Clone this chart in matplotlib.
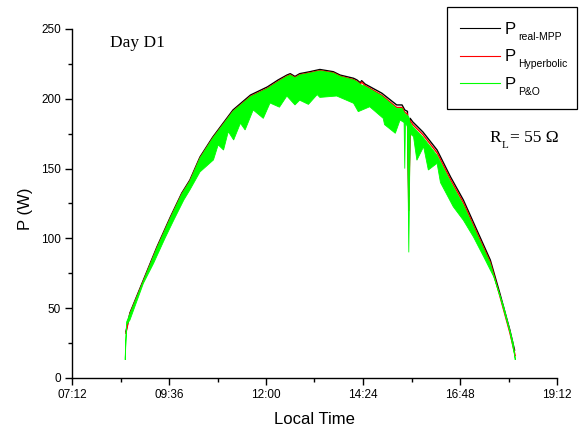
import numpy as np
import matplotlib
matplotlib.use("Agg")
import matplotlib.pyplot as plt
from matplotlib.ticker import FixedLocator, FuncFormatter
from matplotlib.lines import Line2D
from matplotlib.patches import Rectangle

# ---- measured power, day D1 (time as HH:MM, power in W) ----
t_mpp = ["08:32", "08:38", "08:58", "09:18", "09:38", "09:55", "10:07", "10:22",
         "10:41", "11:11", "11:37", "12:02", "12:18", "12:31", "12:36", "12:43",
         "12:50", "13:05", "13:20", "13:40", "13:50", "14:10", "14:15", "14:20",
         "14:22", "14:27", "14:52", "15:14", "15:22", "15:26", "15:30", "15:32",
         "15:34", "15:38", "15:53", "16:14", "16:34", "16:53", "17:13", "17:33",
         "17:47", "18:02", "18:09"]
p_mpp = [33.0, 46.6, 70.2, 93.8, 115.3, 132.5, 141.8, 158.3,
         172.6, 192.0, 202.7, 208.5, 213.5, 217.0, 218.0, 216.0,
         218.0, 219.4, 221.0, 219.4, 217.0, 214.7, 213.5, 211.5,
         213.0, 210.6, 204.0, 195.6, 195.6, 192.0, 191.0, 130.0,
         186.0, 183.4, 176.2, 163.3, 144.0, 127.5, 106.0, 84.5,
         60.9, 34.4, 20.0]

t_hyp = t_mpp[:-1] + ["18:10"]
p_hyp = [32.0, 46.0, 69.5, 93.0, 114.5, 131.8, 141.0, 157.5,
         171.8, 191.0, 201.7, 207.5, 212.5, 216.2, 217.2, 215.2,
         217.2, 218.6, 220.2, 218.6, 216.2, 213.7, 212.5, 210.5,
         212.0, 209.5, 202.5, 193.8, 193.8, 190.3, 189.0, 120.0,
         184.5, 181.5, 174.3, 161.3, 142.0, 125.5, 104.0, 82.7,
         59.0, 32.5, 16.0]

# P&O output oscillates; drawn as the band between its upper and lower envelope
t_po_hi = ["08:31", "08:33", "08:38", "08:58", "09:18", "09:38", "09:55", "10:07",
           "10:22", "10:41", "11:11", "11:37", "12:02", "12:18", "12:31", "12:36",
           "12:43", "12:50", "13:05", "13:20", "13:40", "13:50", "14:10", "14:15",
           "14:20", "14:27", "14:52", "15:14", "15:22", "15:26", "15:30", "15:32",
           "15:34", "15:38", "15:53", "16:14", "16:34", "16:53", "17:13", "17:33",
           "17:47", "18:02", "18:10"]
p_po_hi = [15.0, 40.0, 46.0, 69.5, 93.0, 114.5, 131.8, 141.0,
           157.5, 171.8, 191.0, 201.5, 207.3, 212.3, 216.0, 217.0,
           215.0, 217.0, 218.4, 220.0, 218.4, 216.0, 213.5, 212.3,
           210.3, 209.0, 202.0, 193.0, 193.0, 189.5, 188.0, 187.0,
           183.0, 180.0, 172.5, 159.5, 140.5, 124.0, 103.0, 82.0,
           59.0, 33.0, 14.0]

t_po_lo = ["08:31", "08:33", "08:38", "08:58", "09:13", "09:30", "09:43", "09:58",
           "10:07", "10:22", "10:42", "10:49", "10:57", "11:04", "11:12", "11:22",
           "11:29", "11:41", "11:56", "12:06", "12:20", "12:31", "12:43", "12:50",
           "13:03", "13:16", "13:20", "13:45", "14:10", "14:17", "14:34", "14:54",
           "14:56", "15:12", "15:19", "15:25", "15:26", "15:27", "15:30", "15:32",
           "15:34", "15:39", "15:44", "15:54", "16:01", "16:14", "16:19", "16:38",
           "16:53", "17:08", "17:23", "17:38", "17:53", "18:07", "18:10"]
p_po_lo = [13.0, 38.0, 41.5, 67.8, 82.0, 100.0, 113.0, 127.5,
           134.7, 147.6, 156.2, 167.0, 163.3, 176.5, 170.5, 182.5,
           177.7, 192.0, 186.0, 197.0, 194.0, 202.0, 195.6, 199.0,
           196.0, 203.0, 201.0, 202.0, 196.8, 190.8, 194.3, 186.0,
           181.5, 175.3, 184.8, 183.0, 150.0, 183.0, 180.0, 90.0,
           175.0, 172.9, 156.0, 165.7, 149.0, 153.8, 140.0, 122.7,
           113.0, 101.0, 87.0, 72.6, 51.0, 25.0, 13.0]

x_ticks = ["07:12", "09:36", "12:00", "14:24", "16:48", "19:12"]
y_ticks = [0, 50, 100, 150, 200, 250]

legend_main = ["P", "P", "P"]
legend_sub = ["real-MPP", "Hyperbolic", "P&O"]
legend_colors = ["black", "red", "#00ff00"]


def hours(stamps):
    return np.array([int(s[:2]) + int(s[3:]) / 60.0 for s in stamps])


def hhmm(x, pos=None):
    m = int(round(x * 60))
    return f"{m // 60:02d}:{m % 60:02d}"


W, H, DPI = 583, 429, 100
SANS = "Liberation Sans"
SERIF = "Liberation Serif"

plt.rcParams["font.family"] = [SANS, "DejaVu Sans"]

fig = plt.figure(figsize=(W / DPI, H / DPI), dpi=DPI)
fig.patch.set_facecolor("white")
ax = fig.add_axes([72 / W, 1 - 378 / H, 485 / W, 349 / H])


def fx(px):
    return px / W


def fy(py):
    return 1 - py / H


ax.plot(hours(t_mpp), p_mpp, color="black", lw=1.0, zorder=2)
ax.plot(hours(t_hyp), p_hyp, color="red", lw=1.0, zorder=3)
th, tl = hours(t_po_hi), hours(t_po_lo)
ax.fill(np.concatenate([th, tl[::-1]]),
        np.concatenate([p_po_hi, p_po_lo[::-1]]),
        facecolor="#00ff00", edgecolor="#00ff00", lw=0.6, zorder=4)

xt = hours(x_ticks)
ax.set_xlim(xt[0], xt[-1])
ax.set_ylim(y_ticks[0], y_ticks[-1])
ax.xaxis.set_major_locator(FixedLocator(xt))
ax.xaxis.set_minor_locator(FixedLocator((xt[:-1] + xt[1:]) / 2))
ax.xaxis.set_major_formatter(FuncFormatter(hhmm))
ax.yaxis.set_major_locator(FixedLocator(y_ticks))
ax.yaxis.set_minor_locator(FixedLocator(np.array(y_ticks[:-1]) + 25))

for side in ("top", "right"):
    ax.spines[side].set_visible(False)
for side in ("left", "bottom"):
    ax.spines[side].set_linewidth(1.0)
ax.tick_params(which="major", direction="out", length=5, width=1.0,
               labelsize=8.5, pad=3)
ax.tick_params(which="minor", direction="out", length=3, width=1.0)

ax.set_xlabel("Local Time", fontsize=12, va="top")
ax.xaxis.set_label_coords(0.5, (378 - 412) / 349)
ax.set_ylabel("P (W)", fontsize=12)
ax.yaxis.set_label_coords((33 - 72) / 485, 0.485)

# legend box drawn in figure pixels
fig.add_artist(Rectangle((fx(446.7), fy(109.3)), 130 / W, 102 / H,
                         transform=fig.transFigure, fill=False,
                         edgecolor="black", lw=0.9))
fig.canvas.draw()
renderer = fig.canvas.get_renderer()
for i, (main, sub, col) in enumerate(zip(legend_main, legend_sub, legend_colors)):
    ly = 27.7 + i * 27.8
    fig.add_artist(Line2D([fx(460), fx(500)], [fy(ly), fy(ly)],
                          transform=fig.transFigure, color=col, lw=0.8))
    tp = fig.text(fx(505), fy(ly + 5.8), main, fontsize=12, family=SANS,
                  va="baseline", ha="left")
    bb = tp.get_window_extent(renderer)
    fig.text((bb.x1 + 2) / W, fy(ly + 11.8), sub, fontsize=7.5, family=SANS,
             va="baseline", ha="left")

fig.text(fx(110), fy(47.3), "Day D1", fontsize=12.5, family=SERIF,
         va="baseline", ha="left")

tr = fig.text(fx(489), fy(142.5), "R", fontsize=12.5, family=SERIF,
              va="baseline", ha="left")
bb = tr.get_window_extent(renderer)
tl_ = fig.text((bb.x1 + 1.5) / W, fy(147.5), "L", fontsize=8, family=SERIF,
               va="baseline", ha="left")
bb2 = tl_.get_window_extent(renderer)
fig.text((bb2.x1 + 1.0) / W, fy(142.5), "= 55 Ω", fontsize=12.5, family=SERIF,
         va="baseline", ha="left")

fig.savefig("out.png", dpi=DPI)
